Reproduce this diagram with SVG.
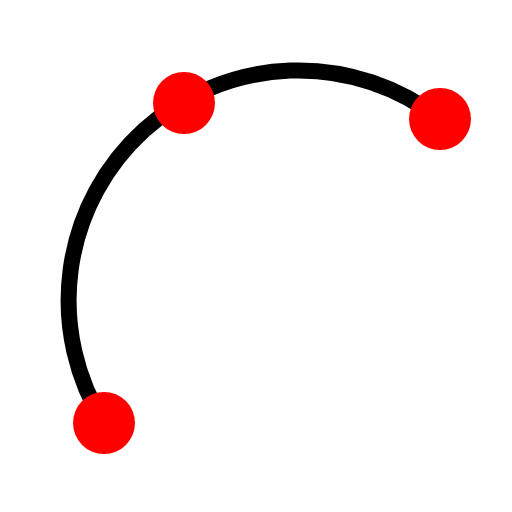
<svg xmlns="http://www.w3.org/2000/svg" width="512" height="512" viewBox="0 0 512 512">
<style>.dot{fill:#ff0000}</style>
<rect width="512" height="512" fill="#ffffff"/>
<g id="connectors">
<path d="M104,423 A230,230 0 0 1 440,119" fill="none" stroke="#000000" stroke-width="16"/>
</g>
<g id="p1"><circle class="dot" cx="104" cy="423" r="31"/></g>
<g id="p2"><circle class="dot" cx="184" cy="103" r="31"/></g>
<g id="p3"><circle class="dot" cx="440" cy="119" r="31"/></g>
</svg>
